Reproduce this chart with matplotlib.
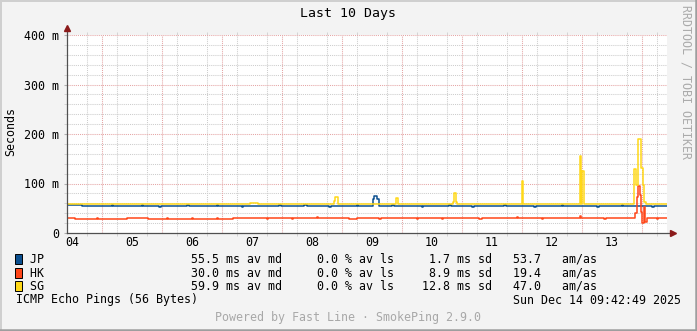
import matplotlib
matplotlib.use("Agg")
import matplotlib.pyplot as plt
from matplotlib.lines import Line2D
from matplotlib.patches import Rectangle

# hours since Dec 04 00:00
jp_t = [10.1, 16.0, 28.0, 28.6, 40.0, 40.6, 47.0, 47.6, 58.0, 59.0, 70.0, 70.5,
        80.0, 80.6, 95.0, 95.6, 105.0, 106.0, 115.0, 115.6, 126.0, 126.6, 132.4,
        133.0, 134.2, 134.9, 140.0, 141.0, 152.0, 152.6, 163.0, 163.6, 172.0, 173.0,
        185.0, 185.6, 197.0, 197.6, 208.0, 208.6, 222.0, 223.0, 232.0, 232.6, 244.0,
        245.0, 250.1]
jp_v = [55.8, 54.8, 57.0, 54.8, 57.0, 54.8, 53.0, 54.8, 57.0, 54.8, 57.0, 54.8,
        53.0, 54.8, 57.0, 54.8, 57.0, 54.8, 53.0, 54.8, 57.0, 54.8, 68.0,
        75.0, 68.0, 54.8, 57.0, 54.8, 53.0, 54.8, 57.0, 54.8, 53.0, 54.8,
        57.0, 54.8, 53.0, 54.8, 57.0, 54.8, 53.0, 54.8, 57.0, 54.8, 53.0,
        54.8, 54.8]

hk_t = [10.1, 13.3, 22.0, 22.5, 34.0, 42.5, 50.0, 50.5, 60.0, 60.6, 70.0, 70.5,
        76.5, 90.0, 90.6, 100.0, 100.5, 110.0, 110.6, 123.0, 126.0, 135.0, 135.6,
        142.0, 150.0, 150.5, 160.0, 160.5, 175.0, 176.0, 190.0, 190.5, 200.0, 200.5,
        208.0, 215.1, 215.7, 225.0, 225.5, 237.3, 238.0, 238.6, 239.3, 239.8, 240.2,
        240.8, 241.3, 242.1, 246.0, 246.5, 250.1]
hk_v = [29.7, 27.7, 29.5, 27.7, 29.7, 27.7, 29.5, 27.7, 29.5, 27.7, 29.5, 27.7,
        29.7, 27.7, 29.7, 27.7, 29.7, 31.5, 29.7, 27.7, 29.7, 27.7, 29.7,
        29.7, 27.7, 29.7, 27.7, 29.7, 27.7, 29.7, 31.5, 29.7, 27.7, 29.7,
        29.7, 34.0, 29.7, 27.7, 29.7, 40.0, 73.0, 95.0, 77.0, 43.0, 20.0,
        53.0, 23.0, 29.7, 27.7, 29.7, 29.7]

sg_t = [10.1, 83.3, 86.5, 117.0, 117.3, 118.4, 141.8, 142.5, 164.5, 164.9, 165.6,
        166.0, 191.9, 192.4, 215.1, 215.7, 216.0, 216.8, 237.0, 237.7, 238.6, 239.7,
        240.4, 241.0, 241.7, 250.1]
sg_v = [59.2, 61.0, 59.2, 65.0, 73.0, 59.2, 71.0, 59.2, 62.0, 80.0, 62.0,
        59.2, 105.0, 59.2, 156.0, 59.2, 125.0, 59.2, 129.0, 97.0, 190.0, 132.0,
        97.0, 62.0, 59.2, 59.2]

names = ["JP", "HK", "SG"]
colors = ["#0B4F8F", "#FF4619", "#FFD817"]
med_avg = [55.5, 30.0, 59.9]
loss_avg = [0.0, 0.0, 0.0]
sd = [1.7, 8.9, 12.8]
am_as = [53.7, 19.4, 47.0]

day_labels = ["04", "05", "06", "07", "08", "09", "10", "11", "12", "13"]
ytick_vals = [0, 100, 200, 300, 400]
ytick_labels = ["0", "100 m", "200 m", "300 m", "400 m"]

W, H = 697, 331
def fx(x):
    return x / W
def fy(y):
    return 1 - y / H

plt.rcParams["font.family"] = "DejaVu Sans Mono"
fs = 8.4

fig = plt.figure(figsize=(W / 100, H / 100), dpi=100, facecolor="#F3F3F3")
ax = fig.add_axes([fx(67), fy(233), 600 / W, 198 / H])
ax.set_facecolor("white")
ax.set_xlim(10.1, 250.1)
ax.set_ylim(0, 400)
for s in ax.spines.values():
    s.set_visible(False)

# grid: gray every 6 h / 20 ms, red at midnight / every 100 ms
dot = (0, (1, 1))
ax.set_xticks([h for h in range(12, 252, 6) if h % 24 != 0], minor=True)
ax.set_yticks([v for v in range(20, 400, 20) if v % 100 != 0], minor=True)
ax.grid(which="minor", color="#CDCDCD", ls=dot, lw=0.75)
for h in range(24, 252, 24):
    ax.axvline(h, color="#E5A5A5", ls=dot, lw=0.75, zorder=0.6)
for v in ytick_vals[1:]:
    ax.axhline(v, color="#E5A5A5", ls=dot, lw=0.75, zorder=0.6)
ax.set_axisbelow(True)

ax.set_xticks([24 * i + 12 for i in range(len(day_labels))], day_labels)
ax.set_yticks(ytick_vals, ytick_labels)
ax.tick_params(axis="x", which="major", length=0, pad=2.5, labelsize=fs)
ax.tick_params(axis="y", which="major", length=2, pad=3.6, labelsize=fs, color="#B0B0B0")
ax.tick_params(axis="x", which="minor", length=2, top=True, color="#CDCDCD")
ax.tick_params(axis="y", which="minor", length=2, color="#CDCDCD")

ax.plot(jp_t, jp_v, drawstyle="steps-post", color=colors[0], lw=1.1)
ax.plot(hk_t, hk_v, drawstyle="steps-post", color=colors[1], lw=1.1)
ax.plot(sg_t, sg_v, drawstyle="steps-post", color=colors[2], lw=1.1)

# axes with arrows
ax.plot([0, 0], [0, 1.035], color="#505050", lw=0.9, transform=ax.transAxes, clip_on=False)
ax.plot([0, 1.01], [0, 0], color="#505050", lw=0.9, transform=ax.transAxes, clip_on=False)
ax.plot([0], [1.035], marker="^", ms=5, color="#8B1A1A", transform=ax.transAxes, clip_on=False)
ax.plot([1.01], [0], marker=">", ms=5, color="#8B1A1A", transform=ax.transAxes, clip_on=False)

fig.text(fx(348), fy(14), "Last 10 Days", ha="center", va="center", fontsize=9.5)
fig.text(fx(11), fy(132), "Seconds", rotation=90, ha="center", va="center", fontsize=fs)
fig.text(fx(686), fy(5), "RRDTOOL / TOBI OETIKER", rotation=270, ha="center", va="top",
         fontsize=fs, color="#ABABAB")

for i, name in enumerate(names):
    y = 259 + i * 13.6
    fig.add_artist(Rectangle((fx(15), fy(y + 5)), 7 / W, 10 / H, transform=fig.transFigure,
                             facecolor=colors[i], edgecolor="black", lw=0.7))
    row = (f"{name:<23s}{med_avg[i]:4.1f} ms av md{loss_avg[i]:8.1f} % av ls"
           f"{sd[i]:8.1f} ms sd{am_as[i]:7.1f}   am/as")
    fig.text(fx(30), fy(y), row, va="center", fontsize=fs)

fig.text(fx(16), fy(300), "ICMP Echo Pings (56 Bytes)", va="center", fontsize=fs)
fig.text(fx(681), fy(300), "Sun Dec 14 09:42:49 2025", ha="right", va="center", fontsize=fs)
fig.text(fx(348), fy(318), "Powered by Fast Line \u00b7 SmokePing 2.9.0", ha="center", va="center",
         fontsize=fs, color="#A8A8A8")

# frame
fig.add_artist(Line2D([0, 1], [fy(0.7), fy(0.7)], color="#CFCFCF", lw=1.4, transform=fig.transFigure))
fig.add_artist(Line2D([fx(0.7), fx(0.7)], [0, 1], color="#CFCFCF", lw=1.4, transform=fig.transFigure))
fig.add_artist(Line2D([0, 1], [fy(H - 1.2), fy(H - 1.2)], color="#9E9E9E", lw=1.8, transform=fig.transFigure))
fig.add_artist(Line2D([fx(W - 1.2), fx(W - 1.2)], [0, 1], color="#9E9E9E", lw=1.8, transform=fig.transFigure))

fig.savefig("out.png", dpi=100, facecolor=fig.get_facecolor())
